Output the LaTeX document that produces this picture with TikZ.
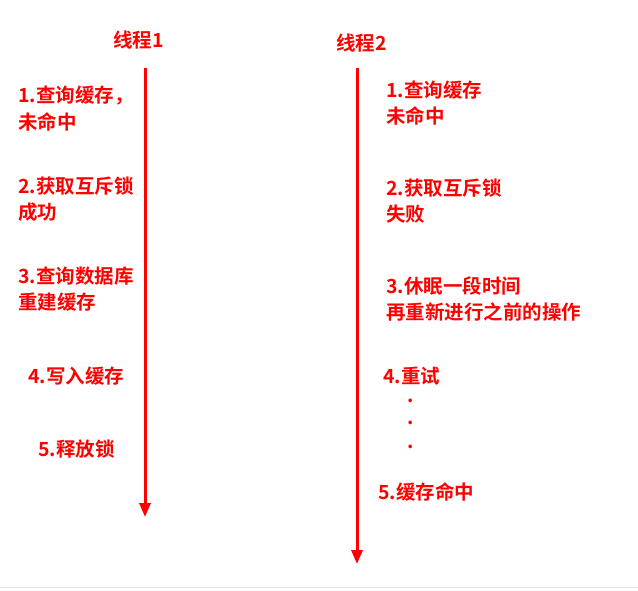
\documentclass[tikz,border=0pt]{standalone}
\usepackage{fontspec}
\setmainfont{Noto Sans CJK SC}[BoldFont={* Bold}]
\usetikzlibrary{arrows.meta}
\definecolor{myred}{RGB}{255,0,0}
\begin{document}
\begin{tikzpicture}[x=1pt,y=-1pt,
  t/.style={anchor=west,inner sep=0pt,text=myred,font=\fontsize{19.5}{22}\selectfont\bfseries},
  dt/.style={t,text height=4pt,text depth=0pt},
  ar/.style={draw=myred,line width=3pt,-{Triangle[length=14pt,width=11pt]}}]
\useasboundingbox (0,0) rectangle (638,590);
\draw[gray!20] (0,587) -- (638,587);
\node[t] (h1) at (113,40) {线程1};
\node[t] (h2) at (336,43) {线程2};
\coordinate (a1) at (145,68); \coordinate (b1) at (145,517);
\coordinate (a2) at (357,68); \coordinate (b2) at (357,564);
\draw[ar] (a1) -- (b1);
\draw[ar] (a2) -- (b2);
\node[t] (l1a) at (18,96) {1.查询缓存，};
\node[t] (l1b) at (18,122) {未命中};
\node[t] (l2a) at (18,186) {2.获取互斥锁};
\node[t] (l2b) at (18,212) {成功};
\node[t] (l3a) at (18,276) {3.查询数据库};
\node[t] (l3b) at (18,302) {重建缓存};
\node[t] (l4) at (28,376) {4.写入缓存};
\node[t] (l5) at (38,449) {5.释放锁};
\node[t] (r1a) at (386,90) {1.查询缓存};
\node[t] (r1b) at (386,116) {未命中};
\node[t] (r2a) at (386,188) {2.获取互斥锁};
\node[t] (r2b) at (386,214) {失败};
\node[t] (r3a) at (386,286) {3.休眠一段时间};
\node[t] (r3b) at (386,312) {再重新进行之前的操作};
\node[t] (r4) at (383,376) {4.重试};
\node[dt] (d1) at (407,400) {.};
\node[dt] (d2) at (407,422) {.};
\node[dt] (d3) at (407,446) {.};
\node[t] (r5) at (378,492) {5.缓存命中};
\end{tikzpicture}
\end{document}
